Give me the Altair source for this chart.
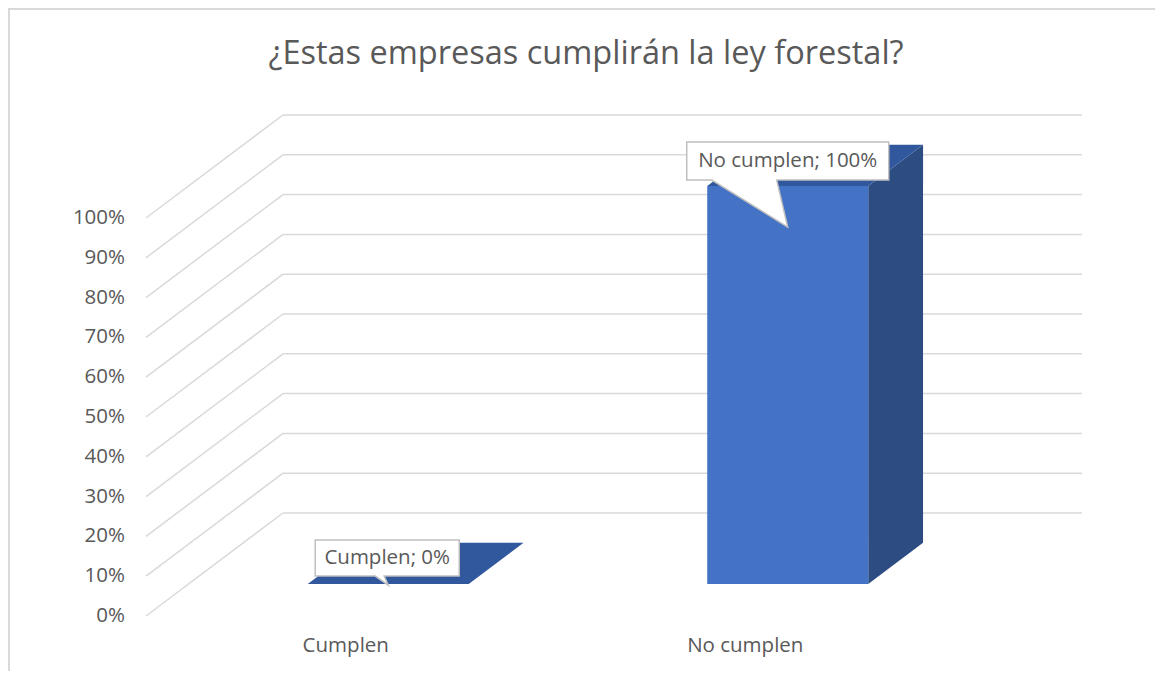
import altair as alt
import pandas as pd

# ---------------- data ----------------
categories = ["Cumplen", "No cumplen"]
values = [0.0, 1.0]
tick_values = [0.0, 0.1, 0.2, 0.3, 0.4, 0.5, 0.6, 0.7, 0.8, 0.9, 1.0]
tick_labels = ["0%", "10%", "20%", "30%", "40%", "50%", "60%", "70%", "80%", "90%", "100%"]
data_labels = ["Cumplen; 0%", "No cumplen; 100%"]
title_text = "¿Estas empresas cumplirán la ley forestal?"

# ---------------- geometry / style ----------------
W, H = 1147, 663
DX = 137 / 399.5      # depth shift in category units
DY = 103 / 398        # depth shift in value units
HALF = 0.2015         # half bar width (category units)
D0, D1 = 0.31, 0.71   # bar front/back depth fractions
X_DOMAIN = [-0.8454, 2.0256]
Y_DOMAIN = [-0.1382, 1.5276]
FONT = "Open Sans"
GREY = "#595959"
GRID = "#D9D9D9"
FRONT = "#4472C4"
SIDE = "#2D4C82"
TOP = "#31579C"


def U(u, d):
    return u + d * DX


def V(v, d):
    return v + d * DY


xs = alt.Scale(domain=X_DOMAIN, nice=False, zero=False)
ys = alt.Scale(domain=Y_DOMAIN, nice=False, zero=False)


def X(f):
    return alt.X(f, type="quantitative", scale=xs, axis=None)


def Y(f):
    return alt.Y(f, type="quantitative", scale=ys, axis=None)


# gridlines
back = pd.DataFrame({
    "x": [U(-0.5, 1)] * len(tick_values),
    "x2": [U(1.5, 1)] * len(tick_values),
    "y": [V(t, 1) for t in tick_values],
})
side = pd.DataFrame({
    "x": [U(-0.5, 0)] * len(tick_values),
    "x2": [U(-0.5, 1)] * len(tick_values),
    "y": [V(t, 0) for t in tick_values],
    "y2": [V(t, 1) for t in tick_values],
})

back_layer = alt.Chart(back).mark_rule(color=GRID, strokeWidth=1.5).encode(
    x=X("x"), x2="x2", y=Y("y"))
side_layer = alt.Chart(side).mark_rule(color=GRID, strokeWidth=1.5).encode(
    x=X("x"), x2="x2", y=Y("y"), y2="y2")

# bars
front_rows, side_rows, top_rows = [], [], []
for i, (c, v) in enumerate(zip(categories, values)):
    front_rows.append({"cat": c, "x": U(i - HALF, D0), "x2": U(i + HALF, D0),
                       "y": V(0, D0), "y2": V(v, D0)})
    for d in (D0, D1):
        side_rows.append({"cat": c, "x": U(i + HALF, d), "top": V(v, d), "bot": V(0, d)})
        top_rows.append({"cat": c, "y": V(v, d), "xl": U(i - HALF, d), "xr": U(i + HALF, d)})

front_df = pd.DataFrame(front_rows)
side_df = pd.DataFrame(side_rows)
top_df = pd.DataFrame(top_rows)

side_faces = alt.Chart(side_df).mark_area(color=SIDE, opacity=1).encode(
    x=X("x"), y=Y("top"), y2="bot", detail="cat:N")
top_faces = alt.Chart(top_df).mark_area(color=TOP, opacity=1, orient="horizontal").encode(
    y=Y("y"), x=X("xl"), x2="xr", detail="cat:N")
front_faces = alt.Chart(front_df).mark_rect(color=FRONT).encode(
    x=X("x"), x2="x2", y=Y("y"), y2="y2")

# data label callouts, anchored at bar top-front centre
anchor = pd.DataFrame({
    "cat": categories,
    "label": data_labels,
    "ax": [U(i, D0) for i in range(len(categories))],
    "ay": [V(v, D0) for v in values],
})

callout_paths = {
    "Cumplen": "M-0.73,-0.44L0.71,-0.44L0.71,-0.08L-0.04,-0.08L0,0.01L-0.13,-0.08L-0.73,-0.08Z",
    "No cumplen": "M-1.01,-0.44L1.01,-0.44L1.01,-0.06L-0.11,-0.06L0,0.41L-0.76,-0.06L-1.01,-0.06Z",
}
label_dy = {"Cumplen": -26, "No cumplen": -25}
label_dx = {"Cumplen": -1, "No cumplen": 0}

callouts = []
for c in categories:
    base = alt.Chart(anchor).transform_filter(alt.datum.cat == c)
    callouts.append(base.mark_point(shape=callout_paths[c], size=40000, filled=True,
                                    fill="white", stroke="#BFBFBF", strokeWidth=1.5,
                                    opacity=1).encode(x=X("ax"), y=Y("ay")))
    callouts.append(base.mark_text(font=FONT, fontSize=20.5, color=GREY, dy=label_dy[c],
                                   dx=label_dx[c], align="center", baseline="middle").encode(
        x=X("ax"), y=Y("ay"), text="label:N"))

# axis labels
ytick_df = pd.DataFrame({"v": tick_values, "lab": tick_labels})
ytick_layer = alt.Chart(ytick_df).mark_text(font=FONT, fontSize=20.5, color=GREY,
                                            align="right", baseline="middle").encode(
    x=alt.value(117), y=Y("v"), text="lab:N")

cat_df = pd.DataFrame({"cat": categories, "u": [U(i, 0) for i in range(len(categories))]})
cat_layer = alt.Chart(cat_df).mark_text(font=FONT, fontSize=20.5, color=GREY,
                                        align="center", baseline="middle").encode(
    x=X("u"), y=alt.value(638), text="cat:N")

title_layer = alt.Chart(pd.DataFrame({"t": [title_text]})).mark_text(
    font=FONT, fontSize=32.5, color=GREY, align="center", baseline="middle").encode(
    x=alt.value(578), y=alt.value(46), text="t:N")

frame = alt.Chart(pd.DataFrame({"a": [0]})).mark_rect(
    fill="white", fillOpacity=0, stroke=GRID, strokeWidth=2).encode(
    x=alt.value(1), x2=alt.value(1152), y=alt.value(1), y2=alt.value(720))

chart = alt.layer(
    frame, back_layer, side_layer, side_faces, top_faces, front_faces,
    *callouts, ytick_layer, cat_layer, title_layer,
).properties(
    width=W, height=H, autosize="none", padding=0, background="white"
).configure_view(stroke=None)

chart.save("out.html", embed_options={"renderer": "svg", "actions": False})
